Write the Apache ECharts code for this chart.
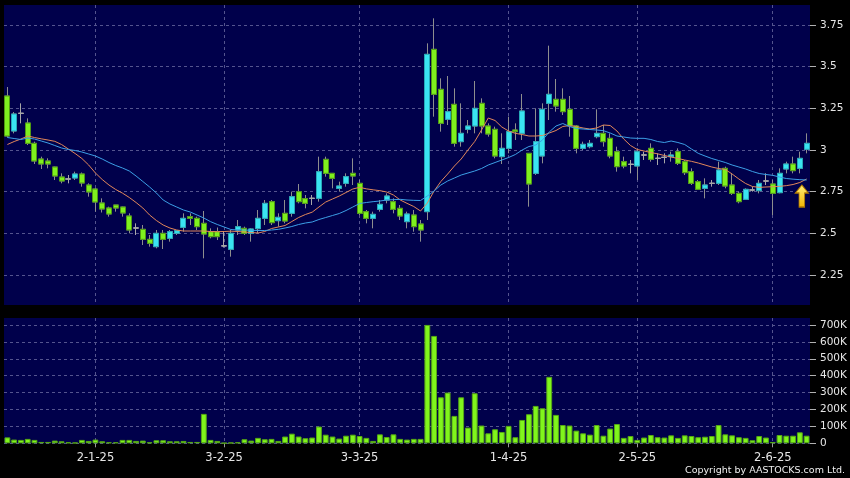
<!DOCTYPE html>
<html>
<head>
<meta charset="utf-8">
<script src="https://cdn.jsdelivr.net/npm/echarts@6/dist/echarts.min.js"></script>
<style>
html,body{margin:0;padding:0;background:#000;}
#chart{width:850px;height:478px;}
</style>
</head>
<body>
<div id="chart"></div>
<script>
// ---------- data ----------
const xTickLabels = ['2-1-25', '3-2-25', '3-3-25', '1-4-25', '2-5-25', '2-6-25'];
const xTickIndex = [13, 32, 52, 74, 93, 113];
const priceTicks = [2.25, 2.5, 2.75, 3, 3.25, 3.5, 3.75];
const volumeTicks = [0, 100000, 200000, 300000, 400000, 500000, 600000, 700000];

const open = [
  3.324, 3.114, 3.22, 3.162, 3.04, 2.946, 2.934, 2.898, 2.838, 2.826,
  2.832, 2.856, 2.79, 2.766, 2.682, 2.652, 2.67, 2.658, 2.604, 2.532,
  2.524, 2.464, 2.42, 2.50, 2.47, 2.50, 2.536, 2.60, 2.59, 2.56,
  2.51, 2.51, 2.425, 2.404, 2.52, 2.53, 2.50, 2.528, 2.59, 2.69,
  2.576, 2.62, 2.62, 2.75, 2.708, 2.71, 2.71, 2.944, 2.86, 2.77,
  2.80, 2.86, 2.80, 2.63, 2.59, 2.644, 2.70, 2.69, 2.65, 2.57,
  2.61, 2.556, 2.63, 3.604, 3.364, 3.184, 3.274, 3.05, 3.124, 3.144,
  3.28, 3.144, 3.124, 2.96, 3.01, 3.12, 3.10, 2.98, 2.86, 2.964,
  3.28, 3.304, 3.304, 3.244, 3.144, 3.01, 3.02, 3.08, 3.10, 3.07,
  2.99, 2.93, 2.914, 2.904, 2.97, 3.01, 2.95, 2.956, 2.96, 2.99,
  2.93, 2.87, 2.81, 2.77, 2.80, 2.80, 2.89, 2.79, 2.74, 2.704,
  2.76, 2.756, 2.814, 2.796, 2.744, 2.886, 2.916, 2.89, 3.004
];
const close = [
  3.084, 3.216, 3.22, 3.04, 2.934, 2.916, 2.916, 2.844, 2.814, 2.826,
  2.856, 2.802, 2.748, 2.688, 2.646, 2.616, 2.652, 2.622, 2.52, 2.532,
  2.464, 2.44, 2.50, 2.464, 2.51, 2.516, 2.59, 2.59, 2.54, 2.496,
  2.48, 2.48, 2.425, 2.50, 2.54, 2.50, 2.526, 2.59, 2.68, 2.564,
  2.596, 2.574, 2.72, 2.69, 2.68, 2.71, 2.87, 2.86, 2.83, 2.784,
  2.84, 2.844, 2.62, 2.59, 2.614, 2.674, 2.724, 2.644, 2.604, 2.616,
  2.54, 2.52, 3.574, 3.334, 3.16, 3.23, 3.04, 3.10, 3.144, 3.25,
  3.144, 3.096, 2.964, 3.01, 3.11, 3.11, 3.234, 2.796, 3.05, 3.244,
  3.334, 3.264, 3.23, 3.144, 3.01, 3.034, 3.04, 3.10, 3.05, 2.964,
  2.90, 2.904, 2.914, 2.99, 2.97, 2.944, 2.95, 2.956, 2.97, 2.92,
  2.864, 2.80, 2.764, 2.79, 2.80, 2.88, 2.784, 2.74, 2.69, 2.764,
  2.76, 2.80, 2.814, 2.74, 2.86, 2.916, 2.876, 2.95, 3.04
];
const low = [
  3.075, 3.10, 3.16, 3.03, 2.916, 2.886, 2.89, 2.82, 2.80, 2.80,
  2.82, 2.78, 2.72, 2.63, 2.625, 2.60, 2.63, 2.60, 2.50, 2.49,
  2.43, 2.42, 2.41, 2.406, 2.45, 2.49, 2.51, 2.55, 2.52, 2.35,
  2.47, 2.46, 2.415, 2.36, 2.49, 2.49, 2.45, 2.50, 2.55, 2.55,
  2.54, 2.56, 2.60, 2.68, 2.65, 2.67, 2.69, 2.84, 2.77, 2.75,
  2.78, 2.79, 2.61, 2.56, 2.53, 2.63, 2.68, 2.62, 2.58, 2.53,
  2.51, 2.45, 2.58, 3.20, 3.11, 3.15, 3.02, 3.02, 3.10, 3.10,
  3.10, 3.08, 2.95, 2.916, 2.98, 3.06, 3.06, 2.66, 2.85, 2.92,
  3.18, 3.23, 3.21, 3.08, 2.98, 3.00, 3.01, 3.07, 3.02, 2.95,
  2.87, 2.89, 2.86, 2.82, 2.94, 2.93, 2.91, 2.92, 2.93, 2.91,
  2.85, 2.79, 2.76, 2.71, 2.78, 2.79, 2.77, 2.73, 2.68, 2.70,
  2.75, 2.74, 2.79, 2.61, 2.74, 2.86, 2.86, 2.86, 2.98
];
const high = [
  3.378, 3.228, 3.28, 3.19, 3.05, 2.96, 2.95, 2.90, 2.86, 2.85,
  2.87, 2.865, 2.80, 2.772, 2.71, 2.66, 2.67, 2.66, 2.62, 2.56,
  2.55, 2.49, 2.52, 2.52, 2.52, 2.52, 2.62, 2.62, 2.60, 2.634,
  2.53, 2.535, 2.51, 2.52, 2.58, 2.54, 2.53, 2.64, 2.70, 2.70,
  2.62, 2.70, 2.75, 2.796, 2.73, 2.73, 2.96, 2.96, 2.86, 2.81,
  2.86, 2.95, 2.82, 2.64, 2.63, 2.70, 2.74, 2.71, 2.67, 2.63,
  2.64, 2.58, 3.64, 3.79, 3.43, 3.444, 3.37, 3.28, 3.18, 3.414,
  3.31, 3.16, 3.14, 3.10, 3.20, 3.16, 3.336, 2.98, 3.25, 3.28,
  3.626, 3.426, 3.37, 3.324, 3.15, 3.05, 3.06, 3.244, 3.15, 3.10,
  3.02, 2.96, 2.94, 3.01, 2.99, 3.04, 2.98, 2.98, 2.99, 3.01,
  2.94, 2.89, 2.82, 2.83, 2.82, 2.93, 2.90, 2.86, 2.75, 2.77,
  2.78, 2.82, 2.86, 2.82, 2.89, 2.93, 2.96, 2.99, 3.10
];
// volume in thousands of shares
const volumeK = [
  35, 22, 20, 26, 20, 8, 8, 16, 12, 6,
  4, 20, 14, 22, 12, 6, 6, 20, 20, 14,
  16, 6, 18, 18, 12, 12, 14, 8, 8, 174,
  20, 14, 2, 4, 6, 24, 16, 32, 24, 26,
  14, 40, 57, 40, 30, 34, 99, 51, 40, 28,
  45, 51, 43, 32, 14, 53, 37, 53, 26, 22,
  26, 26, 700, 635, 272, 300, 162, 272, 93, 296,
  105, 59, 83, 67, 103, 36, 138, 172, 221, 207,
  393, 168, 108, 105, 75, 59, 51, 108, 45, 87,
  114, 32, 43, 20, 34, 49, 36, 34, 47, 32,
  47, 43, 36, 39, 43, 108, 53, 47, 36, 32,
  18, 43, 34, 8, 49, 45, 45, 65, 45
];
// short (orange) and long (blue) moving averages, as drawn
const maShort = [
  3.033, 3.051, 3.066, 3.084, 3.075, 3.067, 3.06, 3.052, 3.033, 3.006,
  2.979, 2.949, 2.91, 2.862, 2.823, 2.79, 2.763, 2.741, 2.715, 2.685,
  2.652, 2.61, 2.577, 2.55, 2.532, 2.52, 2.514, 2.514, 2.514, 2.514,
  2.511, 2.51, 2.511, 2.513, 2.511, 2.508, 2.505, 2.502, 2.511, 2.529,
  2.538, 2.547, 2.571, 2.595, 2.613, 2.627, 2.658, 2.688, 2.706, 2.724,
  2.745, 2.766, 2.776, 2.767, 2.761, 2.756, 2.748, 2.73, 2.70, 2.68,
  2.661, 2.634, 2.682, 2.754, 2.811, 2.856, 2.904, 2.946, 3.00, 3.051,
  3.12, 3.192, 3.177, 3.138, 3.114, 3.10, 3.093, 3.084, 3.084, 3.087,
  3.102, 3.117, 3.141, 3.147, 3.141, 3.132, 3.126, 3.132, 3.15, 3.147,
  3.114, 3.066, 3.027, 3.003, 2.994, 2.985, 2.977, 2.967, 2.958, 2.949,
  2.94, 2.932, 2.922, 2.91, 2.898, 2.889, 2.883, 2.856, 2.826, 2.799,
  2.781, 2.776, 2.778, 2.78, 2.782, 2.786, 2.793, 2.805, 2.826
];
const maLong = [
  3.075, 3.069, 3.063, 3.072, 3.066, 3.054, 3.042, 3.027, 3.012, 3.003,
  2.997, 2.988, 2.976, 2.964, 2.946, 2.925, 2.907, 2.892, 2.874, 2.844,
  2.811, 2.778, 2.742, 2.70, 2.676, 2.658, 2.64, 2.628, 2.61, 2.592,
  2.57, 2.553, 2.538, 2.523, 2.52, 2.52, 2.518, 2.517, 2.517, 2.52,
  2.524, 2.532, 2.541, 2.553, 2.562, 2.568, 2.583, 2.595, 2.607, 2.619,
  2.637, 2.658, 2.679, 2.685, 2.69, 2.694, 2.70, 2.702, 2.704, 2.70,
  2.698, 2.697, 2.724, 2.754, 2.79, 2.814, 2.832, 2.85, 2.862, 2.874,
  2.889, 2.91, 2.925, 2.94, 2.955, 2.973, 3.00, 3.021, 3.03, 3.06,
  3.108, 3.144, 3.159, 3.141, 3.129, 3.126, 3.123, 3.12, 3.116, 3.102,
  3.084, 3.078, 3.072, 3.07, 3.07, 3.063, 3.051, 3.045, 3.054, 3.045,
  3.033, 3.006, 2.98, 2.964, 2.949, 2.937, 2.925, 2.91, 2.898, 2.886,
  2.871, 2.859, 2.853, 2.848, 2.838, 2.829, 2.825, 2.822, 2.82
];
const signalIndex = 117;
const signalPrice = 2.724;

// ---------- styling ----------
const UP = '#3ae4f2', UP_EDGE = '#27a9b8';
const DOWN = '#7ff01e', DOWN_EDGE = '#4f9a12';
const WICK = '#8e8e8e', DOJI = '#a8a8a8';
const PANEL = '#00004b';
const GRIDLINE = { color: '#54548e', type: [3, 3], width: 1 };
const FONT = 'DejaVu Sans';

const N = open.length;
const categories = Array.from({ length: N }, (_, i) => {
  const k = xTickIndex.indexOf(i);
  return k >= 0 ? xTickLabels[k] : 'd' + i;
});
const isTick = (i) => xTickIndex.indexOf(i) >= 0;

const dojiStyle = { color: DOJI, color0: DOJI, borderColor: DOJI, borderColor0: DOJI };
const fullCandles = open.map((o, i) => {
  const item = { value: [o, close[i], low[i], high[i]] };
  if (o === close[i]) item.itemStyle = dojiStyle;
  return item;
});
const bodies = open.map((o, i) => {
  const c = close[i];
  const item = { value: [o, c, Math.min(o, c), Math.max(o, c)] };
  if (o === c) item.itemStyle = dojiStyle;
  return item;
});
const volumes = volumeK.map(v => v * 1000);

const chart = echarts.init(document.getElementById('chart'), null, { renderer: 'canvas' });

const xBase = (gi, showLabels) => ({
  type: 'category',
  gridIndex: gi,
  data: categories,
  boundaryGap: true,
  axisLine: { show: false },
  axisTick: {
    show: showLabels, alignWithLabel: true, length: 4,
    interval: (i) => isTick(i),
    lineStyle: { color: '#9a9a9a' }
  },
  axisLabel: {
    show: showLabels,
    interval: (i) => isTick(i),
    color: '#e6e6e6', fontFamily: FONT, fontSize: 11.5, margin: 9
  },
  splitLine: {
    show: true, alignWithLabel: true,
    interval: (i) => isTick(i),
    lineStyle: GRIDLINE
  }
});

chart.setOption({
  animation: false,
  backgroundColor: '#000',
  grid: [
    { left: 4, top: 5, width: 806, height: 300, show: true, backgroundColor: PANEL, borderWidth: 0 },
    { left: 4, top: 318, width: 806, height: 125.3, show: true, backgroundColor: PANEL, borderWidth: 0 }
  ],
  xAxis: [xBase(0, false), xBase(1, true)],
  yAxis: [
    {
      type: 'value', gridIndex: 0, position: 'right',
      min: 2.07, max: 3.87, scale: true,
      axisLine: { show: false },
      axisTick: { show: true, length: 6, customValues: priceTicks, lineStyle: { color: '#b0b0b0' } },
      axisLabel: {
        customValues: priceTicks, color: '#e6e6e6', fontFamily: FONT, fontSize: 10.5, margin: 10,
        formatter: (v) => String(v)
      },
      splitLine: { show: true, lineStyle: GRIDLINE }
    },
    {
      type: 'value', gridIndex: 1, position: 'right',
      min: 0, max: 741000,
      axisLine: { show: false },
      axisTick: { show: true, length: 6, customValues: volumeTicks, lineStyle: { color: '#b0b0b0' } },
      axisLabel: {
        customValues: volumeTicks, color: '#e6e6e6', fontFamily: FONT, fontSize: 10.5, margin: 10,
        formatter: (v) => v === 0 ? '0' : (v / 1000) + 'K'
      },
      splitLine: { show: true, lineStyle: GRIDLINE }
    }
  ],
  series: [
    {
      name: 'candles', type: 'candlestick', xAxisIndex: 0, yAxisIndex: 0,
      barWidth: 5.5, data: fullCandles, z: 2,
      itemStyle: { color: UP, color0: DOWN, borderColor: WICK, borderColor0: WICK, borderColorDoji: DOJI, borderWidth: 1 }
    },
    {
      name: 'bodies', type: 'candlestick', xAxisIndex: 0, yAxisIndex: 0,
      barWidth: 5.5, data: bodies, z: 3,
      itemStyle: { color: UP, color0: DOWN, borderColor: UP_EDGE, borderColor0: DOWN_EDGE, borderColorDoji: DOJI, borderWidth: 1 }
    },
    {
      name: 'MA short', type: 'line', xAxisIndex: 0, yAxisIndex: 0, data: maShort,
      showSymbol: false, symbol: 'none', z: 4,
      lineStyle: { color: '#e2875a', width: 1 }
    },
    {
      name: 'MA long', type: 'line', xAxisIndex: 0, yAxisIndex: 0, data: maLong,
      showSymbol: false, symbol: 'none', z: 4,
      lineStyle: { color: '#3c9fe6', width: 1 },
      markPoint: {
        symbol: 'path://M6,0 L12,8 L8.6,8 L8.6,22 L3.4,22 L3.4,8 L0,8 Z',
        symbolSize: [13, 22],
        symbolOffset: [2, 0],
        label: { show: false },
        itemStyle: {
          color: new echarts.graphic.LinearGradient(0, 0, 0, 1, [
            { offset: 0, color: '#fff07a' }, { offset: 1, color: '#f2b400' }
          ]),
          borderColor: '#b07800', borderWidth: 1
        },
        data: [{ coord: [categories[signalIndex], signalPrice] }]
      }
    },
    {
      name: 'volume', type: 'bar', xAxisIndex: 1, yAxisIndex: 1, data: volumes,
      barCategoryGap: '14%',
      itemStyle: { color: '#80f51c', borderColor: '#56a814', borderWidth: 1 }
    }
  ],
  graphic: [{
    type: 'text', right: 5, top: 466,
    style: { text: 'Copyright by AASTOCKS.com Ltd.', fill: '#f0f0f0', font: '9.5px "DejaVu Sans"' }
  }]
});
</script>
</body>
</html>
